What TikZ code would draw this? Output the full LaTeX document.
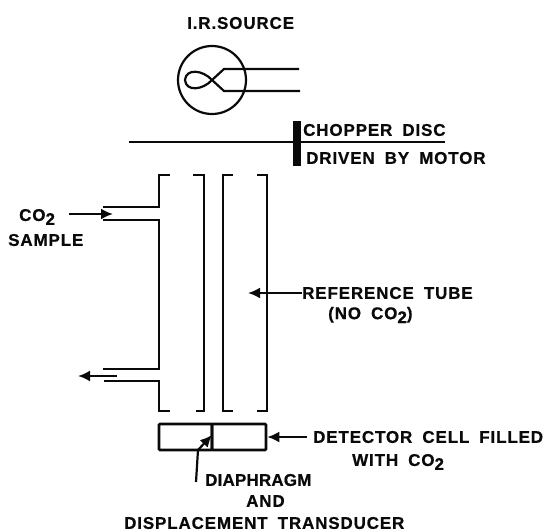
\documentclass[tikz,border=0pt]{standalone}
\usepackage{fontspec}
\setmainfont{Liberation Sans}[LetterSpace=5,WordSpace=1.8,BoldFeatures={FakeBold=0.6}]
\usepackage{tikz}
\usetikzlibrary{
  arrows.meta, positioning, calc
}
\usepackage{xcolor}
\definecolor{inkblack}{RGB}{10,10,10}
\newcommand{\cotwo}{CO\raisebox{-4pt}{2}}
\tikzset{
  wall/.style={draw=inkblack, line width=2.4pt},
  lead/.style={draw=inkblack, line width=2.2pt},
  pointer/.style={draw=inkblack, line width=2.2pt, -{Latex[length=12pt,width=11pt]}},
  caption/.style={font=\bfseries\fontsize{17}{19}\selectfont, text=inkblack, inner sep=0pt, anchor=west},
  cellbox/.style={draw=inkblack, line width=2.6pt, minimum height=26pt, inner sep=0pt, rounded corners=1pt}
}

\begin{document}
\begin{tikzpicture}[x=1pt, y=-1pt]
    \useasboundingbox (0,0) rectangle (547,531);

    % source
    \node[caption] (sourcelabel) at (187,23) {I.R.SOURCE};
    \node[circle, draw=inkblack, line width=2.2pt, minimum size=68pt, inner sep=0pt] (lamp) at (212,80) {};
    \coordinate (leadtop) at (299,69);
    \coordinate (leadbot) at (300,91);
    \draw[lead] (leadtop) -- (224,69) -- (212,80)
        .. controls (203,90) and (186,92) .. (185,80)
        .. controls (186,68) and (203,70) .. (212,80) -- (224,91) -- (leadbot);

    % chopper
    \coordinate (discleft) at (129,142);
    \coordinate (discright) at (445,142);
    \coordinate (bartop) at (297,121);
    \coordinate (barbot) at (297,166);
    \draw[lead] (discleft) -- (discright);
    \draw[draw=inkblack, line width=8pt] (bartop) -- (barbot);
    \node[caption] (chopperlabel) at (303,130) {CHOPPER DISC};
    \node[caption] (motorlabel) at (306,158) {DRIVEN BY MOTOR};

    % sample tube
    \draw[wall] (170,175) -- (159,175) -- (159,207) -- (103,207);
    \draw[wall] (103,220) -- (159,220) -- (159,369) -- (103,369);
    \draw[wall] (104,381) -- (159,381) -- (159,411) -- (170,411);
    \draw[wall] (193,175) -- (204,175) -- (204,411) -- (196,411);

    % reference tube
    \draw[wall] (233,175) -- (223,175) -- (223,411) -- (233,411);
    \draw[wall] (257,175) -- (267,175) -- (267,411) -- (257,411);

    % detector
    \node[cellbox, minimum width=53pt] (cellleft) at (185.5,437) {};
    \node[cellbox, minimum width=54pt] (cellright) at (239,437) {};

    % sample labels
    \node[caption] (colabel) at (19,217) {\cotwo};
    \node[caption] (samplelabel) at (8,240) {SAMPLE};
    \coordinate (intail) at (69,214);
    \coordinate (intip) at (113,214);
    \coordinate (outtail) at (117,376);
    \coordinate (outtip) at (78,376);
    \draw[pointer] (intail) -- (intip);
    \draw[pointer] (outtail) -- (outtip);

    % reference labels
    \node[caption] (reflabel) at (302,293) {REFERENCE TUBE};
    \node[caption] (nolabel) at (328,315) {(NO \cotwo)};
    \coordinate (reftip) at (248,293);
    \draw[pointer] (reflabel.west) -- (reftip);

    % detector labels
    \node[caption] (detlabel) at (313,437) {DETECTOR CELL FILLED};
    \node[caption] (withlabel) at (352,462) {WITH \cotwo};
    \draw[pointer, shorten <=6pt] (detlabel.west) -- (cellright.east);

    % diaphragm labels
    \node[caption] (diaphlabel) at (205,480) {\addfontfeature{LetterSpace=1}DIAPHRAGM};
    \node[caption] (andlabel) at (246,501) {AND};
    \node[caption] (translabel) at (124,523) {DISPLACEMENT TRANSDUCER};
    \coordinate (diaphtail) at (196,482);
    \coordinate (diaphtip) at (212,435);
    \draw[pointer] (diaphtail) -- (198,450) -- (diaphtip);
  \end{tikzpicture}
\end{document}
